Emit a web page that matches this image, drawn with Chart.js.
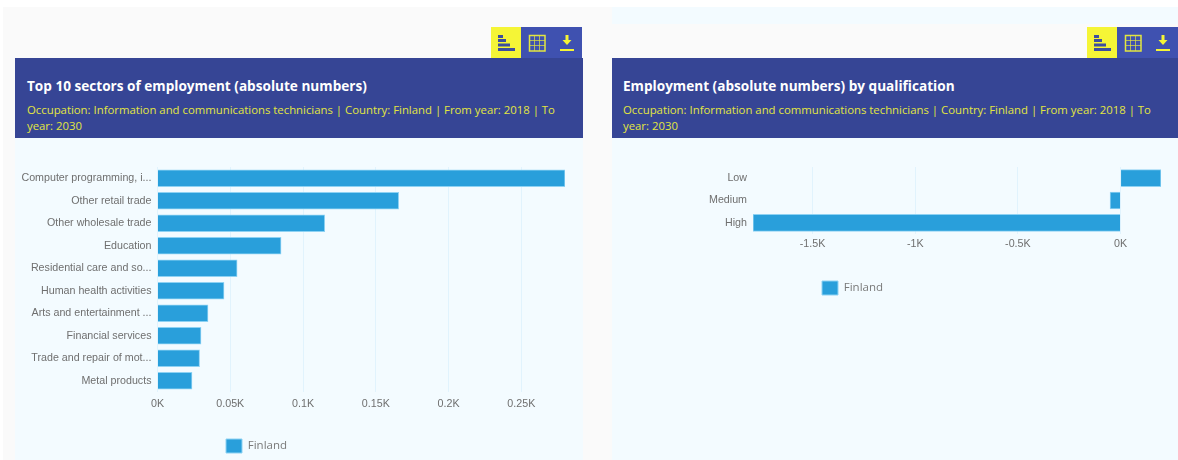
<!DOCTYPE html>
<html>
<head>
<meta charset="utf-8">
<script src="https://cdn.jsdelivr.net/npm/chart.js@4"></script>
<style>
html, body { margin: 0; padding: 0; background: #fff; }
body { position: relative; width: 1178px; height: 460px; overflow: hidden; font-family: "Open Sans", sans-serif; }
.abs { position: absolute; }
.head { background: #364595; left: 0; top: 0; color: #fff; box-sizing: border-box; height: 80px; padding: 19px 12px 0 12px; }
.head h2 { margin: 0; font-size: 13.6px; line-height: 18px; font-weight: 700; }
.head p { margin: 7px 0 0 0; font-size: 11.35px; line-height: 15.5px; color: #e3e640; }
.tool { height: 31px; width: 30.5px; top: 27px; background: #3f51b0; }
.tool.on { background: #f5f536; }
.tool svg { display: block; }
</style>
</head>
<body>
<div class="abs" style="left:3px;top:7px;width:1175px;height:453px;background:#fafafa"></div>
<div class="abs" style="left:612px;top:7px;width:566px;height:17px;background:#f3fbff"></div>

<div class="abs" style="left:15px;top:138px;width:568px;height:322px;background:#f3fbff"><canvas id="chartSectors"></canvas></div>
<div class="abs" style="left:612px;top:138px;width:566px;height:322px;background:#f3fbff"><canvas id="chartQualification"></canvas></div>

<div class="abs head" style="left:15px;top:58px;width:568px">
  <h2 id="titleSectors"></h2><p class="sub"></p>
</div>
<div class="abs head" style="left:612px;top:58px;width:566px;padding-left:11px">
  <h2 id="titleQualification"></h2><p class="sub"></p>
</div>

<script>
// icons for the three toolbar buttons
const barsIcon = '<svg width="30" height="31" fill="#3d4e9e"><rect x="7" y="8" width="5" height="3"/><rect x="7" y="12" width="8" height="3"/><rect x="7" y="16.500" width="12" height="3"/><rect x="7" y="21" width="17" height="3"/></svg>'
const tableIcon = '<svg width="30" height="31" fill="none" stroke="#e3e640"><rect x="8.500" y="8.500" width="15.500" height="15.500" stroke-width="1.5"/><path d="M13.500 9v15M18.500 9v15M9 13.500h15M9 18.500h15" stroke-width="1" stroke-opacity="0.7"/></svg>'
const downloadIcon = '<svg width="30" height="31" fill="#f5f536"><rect x="14.500" y="8" width="3" height="6"/><path d="M11.500 13h9l-4.500 5z"/><rect x="9" y="22" width="14" height="2"/></svg>'

function addToolbar(left){
    [[barsIcon, 'tool on'], [tableIcon, 'tool'], [downloadIcon, 'tool']].forEach(([icon, cls], i) => {
        const d = document.createElement('div')
        d.className = 'abs ' + cls
        d.style.left = (left + i * 30) + 'px'
        d.innerHTML = icon
        document.body.appendChild(d)
    })
}
addToolbar(491)
addToolbar(1087)

const subtitle = 'Occupation: Information and communications technicians | Country: Finland | From year: 2018 | To year: 2030'
document.querySelectorAll('.sub').forEach(el => el.textContent = subtitle)
document.getElementById('titleSectors').textContent = 'Top 10 sectors of employment (absolute numbers)'
document.getElementById('titleQualification').textContent = 'Employment (absolute numbers) by qualification'

const seriesName = 'Finland'

const sectorLabels = ['Computer programming, i...', 'Other retail trade', 'Other wholesale trade', 'Education', 'Residential care and so...', 'Human health activities', 'Arts and entertainment ...', 'Financial services', 'Trade and repair of mot...', 'Metal products']
const sectorValues = [0.28, 0.1657, 0.1149, 0.0849, 0.0547, 0.0457, 0.0347, 0.0299, 0.0289, 0.0237]

const qualificationLabels = ['Low', 'Medium', 'High']
const qualificationValues = [0.197, -0.051, -1.79]

// the legend sits off centre, so it is moved once the layout is done
const legendPlacer = {
    id: 'legendPlacer',
    afterLayout(chart){
        const place = chart.options.plugins.legendPlacer
        const legend = chart.legend
        const w = legend.right - legend.left
        const h = legend.bottom - legend.top
        legend.left = place.x
        legend.right = place.x + w
        legend.top = place.y
        legend.bottom = place.y + h
    }
}

function makeChart(id, labels, values, o){
    const canvas = document.getElementById(id)
    return new Chart(canvas, {
        type: 'bar',
        plugins: [legendPlacer],
        data: {
            labels: labels,
            datasets: [{
                label: seriesName,
                data: values,
                backgroundColor: '#299fdb',
                borderColor: '#8ed2f3',
                borderWidth: 1,
                barThickness: 17
            }]
        },
        options: {
            indexAxis: 'y',
            responsive: false,
            animation: false,
            layout: { padding: { top: 29, right: o.right, bottom: o.bottom, left: 0 } },
            scales: {
                x: {
                    min: o.min,
                    max: o.max,
                    afterFit: scale => { scale.height = o.axisHeight },
                    grid: { color: '#e1f3fd', drawTicks: false },
                    border: { display: false },
                    ticks: {
                        stepSize: o.step,
                        includeBounds: false,
                        padding: o.tickPad,
                        maxRotation: 0,
                        color: '#6f6f6f',
                        font: { family: 'Liberation Sans', size: 10.7 },
                        callback: v => parseFloat(v.toFixed(2)) + 'K'
                    }
                },
                y: {
                    afterFit: scale => { scale.width = o.axisWidth },
                    grid: { display: false, drawTicks: false },
                    border: { display: false },
                    ticks: {
                        autoSkip: false,
                        padding: 6,
                        color: '#6f6f6f',
                        font: { family: 'Liberation Sans', size: 10.7 }
                    }
                }
            },
            plugins: {
                tooltip: { enabled: false },
                legendPlacer: { x: o.legendX, y: o.legendY },
                legend: {
                    position: 'bottom',
                    align: 'start',
                    onClick: null,
                    labels: {
                        boxWidth: 16,
                        boxHeight: 14,
                        padding: 8,
                        color: '#7a7a7a',
                        font: { family: 'Open Sans', size: 11.5 }
                    }
                }
            }
        }
    })
}

document.getElementById('chartSectors').width = 568
document.getElementById('chartSectors').height = 322
document.getElementById('chartQualification').width = 566
document.getElementById('chartQualification').height = 166

makeChart('chartSectors', sectorLabels, sectorValues, {
    min: 0, max: 0.28, step: 0.05, right: 18, bottom: 6, tickPad: 6, axisWidth: 142.5, axisHeight: 30, legendX: 203, legendY: 293
})
makeChart('chartQualification', qualificationLabels, qualificationValues, {
    min: -1.79, max: 0.197, step: 0.5, right: 17, bottom: 8, tickPad: 4, axisWidth: 141, axisHeight: 30, legendX: 202, legendY: 135
})
</script>
</body>
</html>
